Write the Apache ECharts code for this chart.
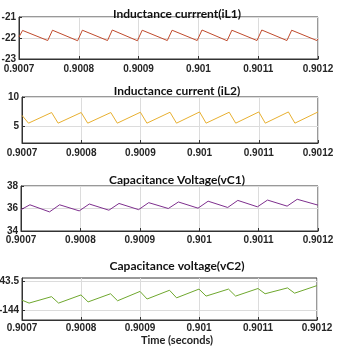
<!DOCTYPE html>
<html><head><meta charset="utf-8">
<script src="https://cdn.jsdelivr.net/npm/echarts@6/dist/echarts.min.js"></script>
<style>html,body{margin:0;padding:0;background:#fff}#c{width:340px;height:354px}</style>
</head><body><div id="c"></div>
<script>
// ---- data ----
var titles = ['Inductance currrent(iL1)', 'Inductance current (iL2)', 'Capacitance Voltage(vC1)', 'Capacitance voltage(vC2)'];
var xLabel = 'Time (seconds)';
var xTicks = [0.9007, 0.9008, 0.9009, 0.901, 0.9011, 0.9012];

var iL1_t = [0.9007, 0.900706, 0.900748, 0.900756, 0.900798, 0.900806, 0.900848, 0.900856, 0.900898, 0.900906, 0.900948, 0.900956, 0.900998, 0.901006, 0.901048, 0.901056, 0.901098, 0.901106, 0.901148, 0.901156, 0.901198, 0.9012];
var iL1_v = [-21.95, -21.64, -22.12, -21.63, -22.13, -21.63, -22.12, -21.62, -22.13, -21.63, -22.12, -21.63, -22.12, -21.62, -22.13, -21.63, -22.12, -21.62, -22.12, -21.63, -22.12, -22.04];

var iL2_t = [0.9007, 0.900711, 0.90075, 0.900761, 0.9008, 0.900811, 0.90085, 0.900861, 0.9009, 0.900911, 0.90095, 0.900961, 0.901, 0.901011, 0.90105, 0.901061, 0.9011, 0.901111, 0.90115, 0.901161, 0.9012];
var iL2_v = [6.8, 5.45, 7.3, 5.45, 7.3, 5.45, 7.3, 5.45, 7.35, 5.45, 7.35, 5.45, 7.4, 5.45, 7.35, 5.45, 7.4, 5.45, 7.4, 5.45, 7.4];

var vC1_t = [0.9007, 0.900715, 0.900748, 0.900765, 0.900798, 0.900815, 0.900848, 0.900865, 0.900898, 0.900915, 0.900948, 0.900965, 0.900998, 0.901015, 0.901048, 0.901065, 0.901098, 0.901115, 0.901148, 0.901165, 0.9012];
var vC1_v = [35.9, 36.33, 35.7, 36.33, 35.79, 36.4, 35.85, 36.45, 35.9, 36.52, 36.0, 36.58, 36.03, 36.65, 36.09, 36.72, 36.15, 36.75, 36.21, 36.82, 36.3];

var vC2_t = [0.9007, 0.900712, 0.90075, 0.900762, 0.9008, 0.900812, 0.90085, 0.900862, 0.9009, 0.900912, 0.90095, 0.900962, 0.901, 0.901012, 0.90105, 0.901062, 0.9011, 0.901112, 0.90115, 0.901162, 0.9012];
var vC2_v = [-143.83, -143.88, -143.77, -143.88, -143.74, -143.86, -143.72, -143.84, -143.68, -143.81, -143.66, -143.79, -143.64, -143.76, -143.64, -143.76, -143.63, -143.72, -143.62, -143.71, -143.58];

var yRanges = [[-23, -21], [2, 10], [34, 38], [-144.17, -143.45]];
var yTicks = [[-23, -22, -21], [5, 10], [34, 36, 38], [-144, -143.5]];
var colors = ['#c04a2c', '#e8b030', '#7e2f8e', '#6fa82e'];

// ---- layout ----
var grids = [
  {left: 19, top: 17, width: 299, height: 42},
  {left: 22, top: 97, width: 296, height: 46},
  {left: 21, top: 186, width: 297, height: 45},
  {left: 22, top: 278, width: 295, height: 42}
];
var titleTops = [3, 80, 169, 255];
var xMargins = [5, 5, 4, 3];
var series_t = [iL1_t, iL2_t, vC1_t, vC2_t];
var series_v = [iL1_v, iL2_v, vC1_v, vC2_v];

function zip(a, b) { return a.map(function (t, i) { return [t, b[i]]; }); }
var font = 'Liberation Sans, Arial, sans-serif';
var tfont = 'Lato, Liberation Sans, sans-serif';

var option = {
  animation: false,
  backgroundColor: '#fff',
  title: titles.map(function (t, i) {
    return {text: t, left: 172, top: titleTops[i], textAlign: 'center',
      textStyle: {fontSize: 12, fontWeight: 'bold', color: '#111', fontFamily: tfont}};
  }).concat([{text: xLabel, left: 172, top: 330, textAlign: 'center',
      textStyle: {fontSize: 11, fontWeight: 'bold', color: '#222', fontFamily: tfont}}]),
  grid: grids.map(function (g) {
    return Object.assign({show: true, borderColor: '#333', borderWidth: 1, backgroundColor: '#fff',
      containLabel: false, outerBoundsMode: 'none'}, g);
  }),
  xAxis: grids.map(function (g, i) {
    return {type: 'value', gridIndex: i, min: xTicks[0], max: xTicks[xTicks.length - 1],
      axisLine: {show: true, lineStyle: {color: '#333', width: 1}},
      axisTick: {show: true, inside: true, length: 3, lineStyle: {color: '#333'}, customValues: xTicks},
      axisLabel: {customValues: xTicks, margin: xMargins[i], fontSize: 10, fontWeight: 'bold', color: '#262626', fontFamily: font,
        formatter: function (v) { return String(Number(v.toFixed(4))); }},
      splitLine: {show: true, lineStyle: {color: '#dcdcdc', width: 1}}
    };
  }),
  yAxis: grids.map(function (g, i) {
    return {type: 'value', gridIndex: i, min: yRanges[i][0], max: yRanges[i][1],
      axisLine: {show: true, lineStyle: {color: '#333', width: 1}},
      axisTick: {show: true, inside: true, length: 3, lineStyle: {color: '#333'}, customValues: yTicks[i]},
      axisLabel: {customValues: yTicks[i], margin: 3, fontSize: 10, fontWeight: 'bold', color: '#262626', fontFamily: font},
      splitLine: {show: true, lineStyle: {color: '#dcdcdc', width: 1}}
    };
  }),
  series: series_t.map(function (t, i) {
    return {type: 'line', xAxisIndex: i, yAxisIndex: i, data: zip(t, series_v[i]),
      showSymbol: false, lineStyle: {color: colors[i], width: 1}, z: 3};
  })
};
var chart = echarts.init(document.getElementById('c'));
chart.setOption(option);
</script>
</body></html>
